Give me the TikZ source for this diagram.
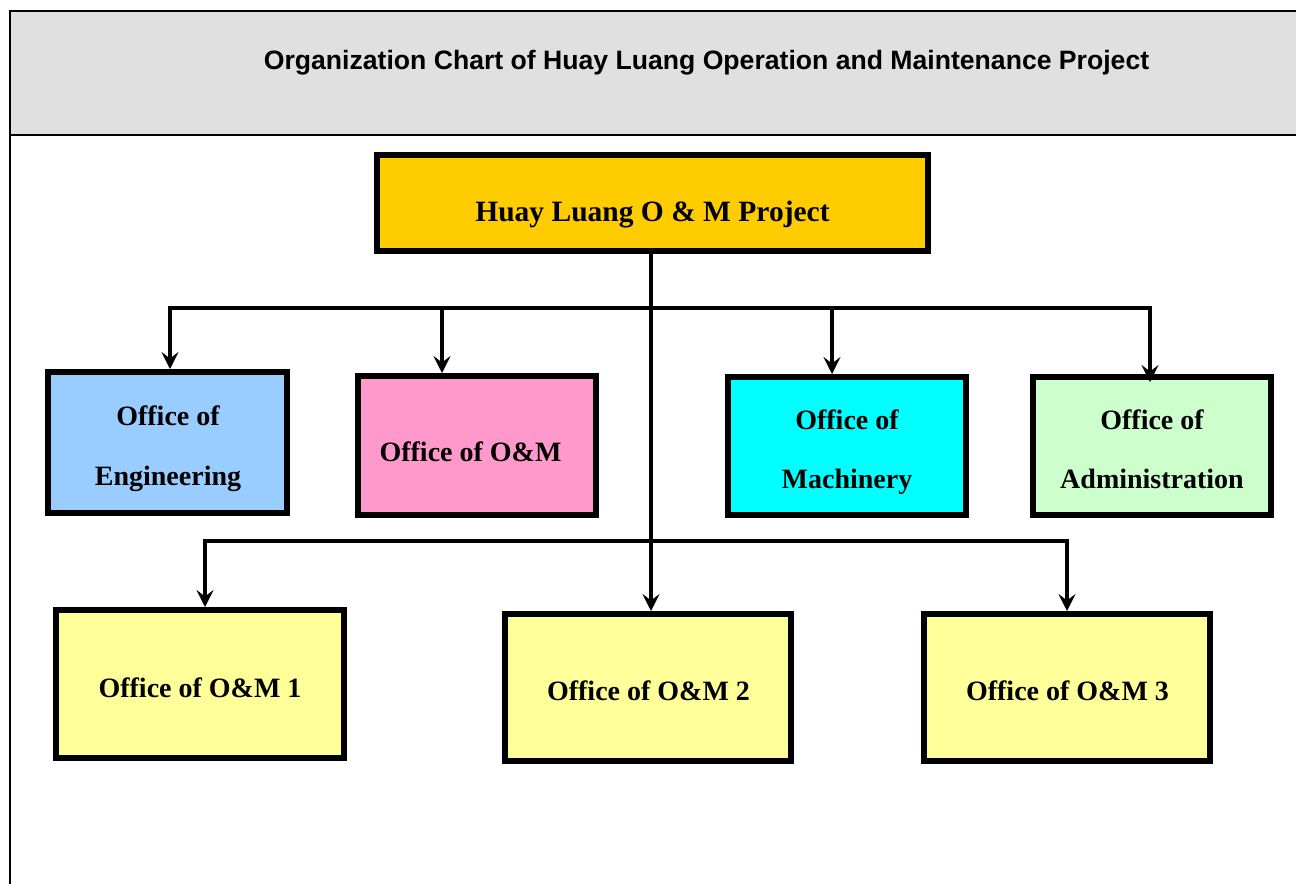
\documentclass[tikz,border=0pt]{standalone}
\usepackage{fontspec}
\setmainfont{Liberation Serif}
\newfontfamily\titlefont{Liberation Sans}
\usetikzlibrary{arrows.meta}
\definecolor{band}{HTML}{E0E0E0}
\definecolor{topc}{HTML}{FFCC00}
\definecolor{engc}{HTML}{99CCFF}
\definecolor{omc}{HTML}{FF99CC}
\definecolor{machc}{HTML}{00FFFF}
\definecolor{admc}{HTML}{CCFFCC}
\definecolor{subc}{HTML}{FFFF99}
\tikzset{
  box/.style={draw=black, line width=6pt, inner sep=0pt},
  boxtext/.style={font=\fontsize{28}{30}\selectfont\bfseries, anchor=base, inner sep=0pt},
  conn/.style={line width=3.5pt},
  arr/.style={conn, -{Stealth[length=17pt, width=17pt, inset=6.5pt]}}
}
\begin{document}
\begin{tikzpicture}[x=1pt, y=-1pt]
\useasboundingbox (0,0) rectangle (1296,884);
% frame
\fill[band] (10,11) rectangle (1296,135);
\draw[line width=2pt] (1296,11) -- (10,11) -- (10,884);
\draw[line width=2pt] (10,135) -- (1296,135);
\node[anchor=base, inner sep=0pt, font=\titlefont\fontsize{26.6}{30}\selectfont\bfseries] (title) at (706.5,69.5) {Organization Chart of Huay Luang Operation and Maintenance Project};

% boxes
\node[box, fill=topc, minimum width=551pt, minimum height=96pt] (top) at (652.5,203) {};
\node[box, fill=engc, minimum width=239pt, minimum height=141pt] (eng) at (167.5,442.5) {};
\node[box, fill=omc, minimum width=238pt, minimum height=139pt] (om) at (477,445.5) {};
\node[box, fill=machc, minimum width=238pt, minimum height=138pt] (mach) at (847,446) {};
\node[box, fill=admc, minimum width=238pt, minimum height=138pt] (adm) at (1152,446) {};
\node[box, fill=subc, minimum width=288pt, minimum height=148pt] (om1) at (200,684) {};
\node[box, fill=subc, minimum width=286pt, minimum height=147pt] (om2) at (648,687.5) {};
\node[box, fill=subc, minimum width=286pt, minimum height=147pt] (om3) at (1067,687.5) {};

% texts
\node[boxtext, font=\fontsize{29.5}{32}\selectfont\bfseries] (ttop) at (652.5,221) {Huay Luang O \& M Project};
\node[boxtext] (teng1) at (168,425) {Office of};
\node[boxtext] (teng2) at (168,485) {Engineering};
\node[boxtext] (tom) at (470.5,461) {Office of O\&M};
\node[boxtext] (tmach1) at (847,429.5) {Office of};
\node[boxtext] (tmach2) at (847,488.5) {Machinery};
\node[boxtext] (tadm1) at (1152,429.5) {Office of};
\node[boxtext] (tadm2) at (1152,488.5) {Administration};
\node[boxtext] (tom1) at (200,697) {Office of O\&M 1};
\node[boxtext] (tom2) at (648.5,700) {Office of O\&M 2};
\node[boxtext] (tom3) at (1067.5,700) {Office of O\&M 3};

% connectors
\coordinate (h1) at (168,308);
\coordinate (h2) at (1151.5,308);
\coordinate (b1) at (170,308);
\coordinate (b2) at (442,308);
\coordinate (b3) at (832,308);
\coordinate (b4) at (1150,308);
\coordinate (b4end) at (1150,382);
\coordinate (g0) at (203.25,541);
\coordinate (g1) at (205,541);
\coordinate (g2) at (1067,541);
\coordinate (g3) at (1068.75,541);
\coordinate (m) at (651,300);
\draw[conn] (h1) -- (h2);
\draw[conn] (g0) -- (g3);
\draw[arr] (top.south -| m) -- (om2.north -| m);
\draw[arr] (b1) -- (b1 |- eng.north);
\draw[arr] (b2) -- (b2 |- om.north);
\draw[arr] (b3) -- (b3 |- mach.north);
\draw[arr] (b4) -- (b4end);
\draw[arr] (g1) -- (g1 |- om1.north);
\draw[arr] (g2) -- (g2 |- om3.north);
\end{tikzpicture}
\end{document}
